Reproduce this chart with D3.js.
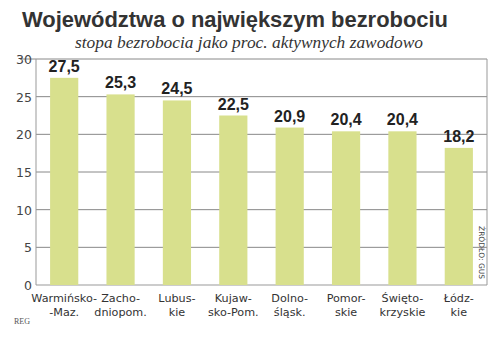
<!DOCTYPE html>
<html><head><meta charset="utf-8">
<script src="https://cdn.jsdelivr.net/npm/d3@7"></script>
<style>body{margin:0;background:#fff}svg{display:block}</style>
</head><body>
<script>
const categories = [["Warmińsko-","-Maz."],["Zacho-","dniopom."],["Lubus-","kie"],["Kujaw-","sko-Pom."],["Dolno-","śląsk."],["Pomor-","skie"],["Święto-","krzyskie"],["Łódz-","kie"]];
const labels = ["27,5","25,3","24,5","22,5","20,9","20,4","20,4","18,2"];
const values = [27.5,25.3,24.5,22.5,20.9,20.4,20.4,18.2];
const yTicks = [0,5,10,15,20,25,30];

const W=500,H=337;
const svg=d3.select("body").append("svg").attr("width",W).attr("height",H);
const m={l:36,r:487,t:59,b:285};
const x=d3.scaleBand().domain(d3.range(values.length)).range([m.l,m.r]).paddingInner(0.5).paddingOuter(0.25);
const y=d3.scaleLinear().domain([0,30]).range([m.b,m.t]);

svg.append("text").attr("x",22).attr("y",27).attr("font-family","Liberation Sans, Arial, sans-serif").attr("font-weight","bold").attr("font-size",22).attr("fill","#333").attr("textLength",426).attr("lengthAdjust","spacingAndGlyphs").text("Województwa o największym bezrobociu");
svg.append("text").attr("x",249).attr("y",48).attr("text-anchor","middle").attr("font-family","Liberation Serif, serif").attr("font-style","italic").attr("font-size",16.5).attr("fill","#333").attr("textLength",348).attr("lengthAdjust","spacingAndGlyphs").text("stopa bezrobocia jako proc. aktywnych zawodowo");

// gridlines
svg.append("g").selectAll("line").data(yTicks.filter(d=>d>0)).join("line")
  .attr("x1",d=>d===30?20:m.l).attr("x2",m.r).attr("y1",d=>y(d)).attr("y2",d=>y(d))
  .attr("stroke","#888").attr("stroke-width",1);
// axis frame
svg.append("line").attr("x1",m.l).attr("x2",m.l).attr("y1",m.t).attr("y2",m.b).attr("stroke","#999");
svg.append("line").attr("x1",m.r).attr("x2",m.r).attr("y1",m.t).attr("y2",m.b).attr("stroke","#999");
svg.append("line").attr("x1",m.l).attr("x2",m.r).attr("y1",m.b).attr("y2",m.b).attr("stroke","#999");

svg.append("g").selectAll("text").data(yTicks).join("text")
  .attr("x",32).attr("y",d=>y(d)+5).attr("text-anchor","end")
  .attr("font-family","DejaVu Sans, sans-serif").attr("font-size",12.5).attr("fill","#444").text(d=>d);

svg.append("g").selectAll("rect").data(values).join("rect")
  .attr("x",(d,i)=>x(i)).attr("width",x.bandwidth()).attr("y",d=>y(d)).attr("height",d=>y(0)-y(d))
  .attr("fill","#d8e08d");

svg.append("g").selectAll("text").data(values).join("text")
  .attr("x",(d,i)=>x(i)+x.bandwidth()/2).attr("y",d=>y(d)-6).attr("text-anchor","middle")
  .attr("font-family","Liberation Sans, Arial, sans-serif").attr("font-weight","bold").attr("font-size",16).attr("fill","#222")
  .text((d,i)=>labels[i]);

const cat=svg.append("g").selectAll("text").data(categories).join("text")
  .attr("x",(d,i)=>x(i)+x.bandwidth()/2).attr("text-anchor","middle")
  .attr("font-family","DejaVu Sans, sans-serif").attr("font-size",11.2).attr("fill","#333");
cat.append("tspan").attr("x",function(){return this.parentNode.getAttribute("x")}).attr("y",302).text(d=>d[0]);
cat.append("tspan").attr("x",function(){return this.parentNode.getAttribute("x")}).attr("y",316).text(d=>d[1]);

svg.append("text").attr("x",14).attr("y",324).attr("font-family","Liberation Serif, serif").attr("font-size",8).attr("fill","#555").text("REG");
svg.append("text").attr("transform","translate(479,226) rotate(90)").attr("font-family","DejaVu Sans, sans-serif").attr("font-size",7.5).attr("fill","#444").text("ŹRÓDŁO: GUS");
</script>
</body></html>
